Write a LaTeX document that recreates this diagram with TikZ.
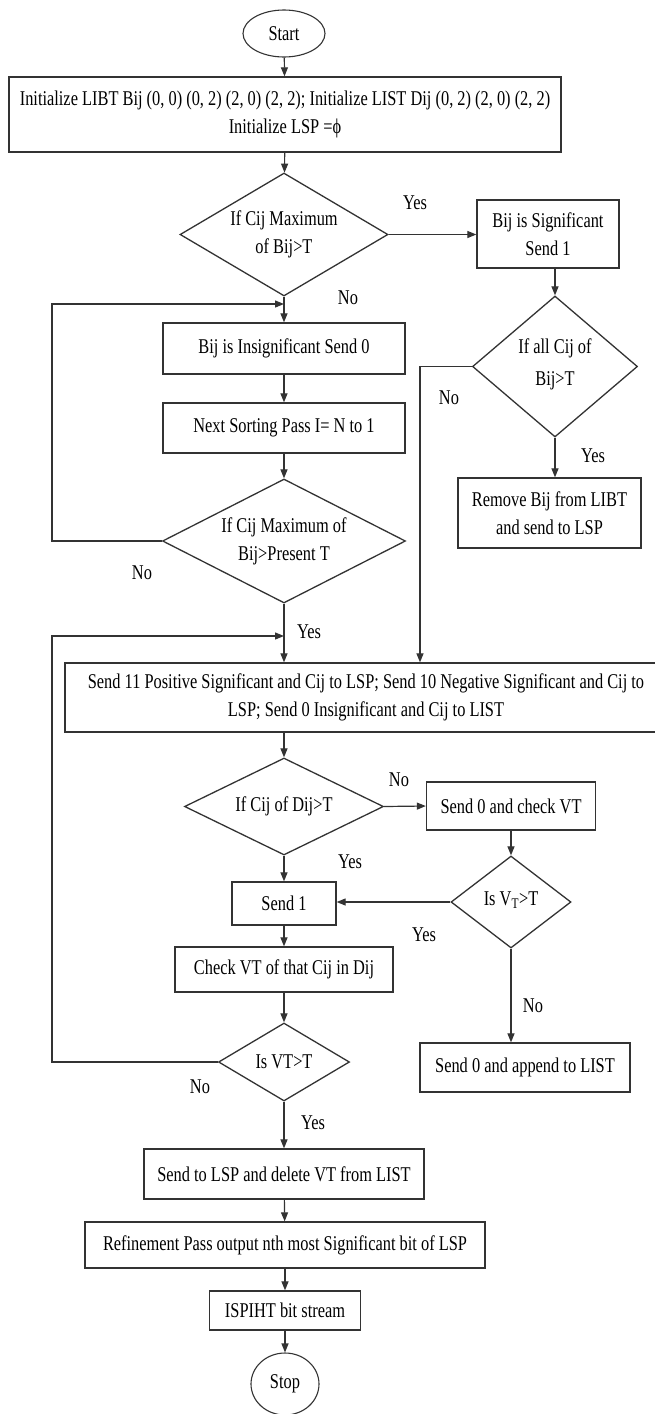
\documentclass[tikz,border=0pt]{standalone}
\usepackage{fontspec}
\setmainfont{Liberation Serif}[FakeStretch=0.78]
\usetikzlibrary{shapes.geometric,arrows.meta}
\begin{document}
\begin{tikzpicture}[x=1pt,y=-1pt,
  every node/.style={font=\fontsize{21}{28}\selectfont, text=black},
  box/.style={draw=black!80, line width=1.3pt, rectangle, inner sep=0pt, align=center},
  dia/.style={draw=black!80, line width=1.3pt, diamond, inner sep=0pt},
  term/.style={draw=black!80, line width=1.1pt, ellipse, inner sep=0pt},
  arr/.style={draw=black!80, line width=1.2pt, -{Triangle[length=9pt,width=7pt]}},
  lbl/.style={inner sep=0pt, align=center}]
\clip (0,0) rectangle (655,1414);
\fill[white] (0,0) rectangle (655,1414);
% nodes
\node[term, minimum width=82pt, minimum height=47pt] (start) at (284,33.5) {Start};
\node[box, minimum width=552pt, minimum height=75pt] (init) at (285,114.5)
  {Initialize LIBT Bij (0, 0) (0, 2) (2, 0) (2, 2); Initialize LIST Dij (0, 2) (2, 0) (2, 2)\\Initialize LSP =ϕ};
\node[dia, minimum width=208pt, minimum height=123pt] (d1) at (284,234.5) {};
\node[lbl] (d1t) at (284,234.5) {If Cij Maximum\\of Bij>T};
\node[box, minimum width=142pt, minimum height=68pt] (sig) at (548,234) {Bij is Significant\\Send 1};
\node[dia, minimum width=165pt, minimum height=141pt] (d2) at (555,366.5) {};
\node[lbl] (d2t) at (555,364) {If all Cij of\\[4pt]Bij>T};
\node[box, minimum width=242pt, minimum height=51pt] (insig) at (284,348.5) {Bij is Insignificant Send 0};
\node[box, minimum width=242pt, minimum height=50pt] (next) at (284,428) {Next Sorting Pass I= N to 1};
\node[dia, minimum width=243pt, minimum height=124pt] (d3) at (284,541) {};
\node[lbl] (d3t) at (284,541) {If Cij Maximum of\\Bij>Present T};
\node[box, minimum width=183pt, minimum height=70pt] (remove) at (549.5,513) {Remove Bij from LIBT\\and send to LSP};
\node[box, minimum width=602pt, minimum height=69pt] (big) at (366,697.5)
  {Send 11 Positive Significant and Cij to LSP; Send 10 Negative Significant and Cij to\\LSP; Send 0 Insignificant and Cij to LIST};
\node[dia, minimum width=199pt, minimum height=97pt] (d4) at (284,806.5) {};
\node[lbl] (d4t) at (284,806.5) {If Cij of Dij>T};
\node[box, minimum width=169pt, minimum height=48pt] (sc) at (511,806) {Send 0 and check VT};
\node[dia, minimum width=120pt, minimum height=92pt] (d5) at (511,902) {};
\node[lbl] (d5t) at (511,900) {Is V\textsubscript{T}>T};
\node[box, minimum width=104pt, minimum height=43pt] (send1) at (284,903.5) {Send 1};
\node[box, minimum width=218pt, minimum height=45pt] (check) at (284,969.5) {Check VT of that Cij in Dij};
\node[dia, minimum width=131pt, minimum height=78pt] (d6) at (284,1062) {};
\node[lbl] (d6t) at (284,1062) {Is VT>T};
\node[box, minimum width=210pt, minimum height=49pt] (append) at (525,1067.5) {Send 0 and append to LIST};
\node[box, minimum width=280pt, minimum height=50pt] (lsp) at (284,1174) {Send to LSP and delete VT from LIST};
\node[box, minimum width=400pt, minimum height=46pt] (ref) at (285,1245) {Refinement Pass output nth most Significant bit of LSP};
\node[box, minimum width=151pt, minimum height=39pt] (isp) at (285,1310.5) {ISPIHT bit stream};
\node[term, minimum width=68pt, minimum height=62pt] (stop) at (285,1384) {Stop};
% labels
\node[lbl] (y1) at (415,203) {Yes};
\node[lbl] (n1) at (348,298) {No};
\node[lbl] (n2) at (449,398) {No};
\node[lbl] (y2) at (593,456) {Yes};
\node[lbl] (n3) at (142,573) {No};
\node[lbl] (y3) at (309,632) {Yes};
\node[lbl] (n4) at (399,780) {No};
\node[lbl] (y4) at (350,862) {Yes};
\node[lbl] (y5) at (424,935) {Yes};
\node[lbl] (n5) at (533,1006) {No};
\node[lbl] (n6) at (200,1087) {No};
\node[lbl] (y6) at (313,1123) {Yes};
% helper coordinates
\coordinate (l1) at (52,304);
\coordinate (j1) at (284,304);
\coordinate (l2) at (52,636);
\coordinate (j2) at (284,636);
\coordinate (c420) at (420,0);
% connectors
\draw[arr] (start) -- (init);
\draw[arr] (init) -- (d1);
\draw[arr] (d1.east) -- (sig.west |- d1.east);
\draw[arr] (d2.north |- sig.south) -- (d2.north);
\draw[arr] (d1.south) -- (insig.north);
\draw[arr] (insig) -- (next);
\draw[arr] (next) -- (d3);
\draw[arr] (d3.west) -- (d3.west -| l1) -- (l1) -- (j1);
\draw[arr] (d3.south) -- (d3.south |- big.north);
\draw[arr] (d2.west) -- (d2.west -| c420) -- (c420 |- big.north);
\draw[arr] (d2.south) -- (d2.south |- remove.north);
\draw[arr] (d4.north |- big.south) -- (d4.north);
\draw[arr] (d4.east) -- (sc.west);
\draw[arr] (sc.south) -- (d5.north);
\draw[arr] (d5.west) -- (send1.east |- d5.west);
\draw[arr] (d4.south) -- (send1.north);
\draw[arr] (send1) -- (check);
\draw[arr] (check) -- (d6);
\draw[arr] (d6.west) -- (d6.west -| l2) -- (l2) -- (j2);
\draw[arr] (d5.south) -- (d5.south |- append.north);
\draw[arr] (d6.south) -- (lsp.north);
\draw[arr] (lsp) -- (ref);
\draw[arr] (ref) -- (isp);
\draw[arr] (isp) -- (stop);
\end{tikzpicture}
\end{document}
